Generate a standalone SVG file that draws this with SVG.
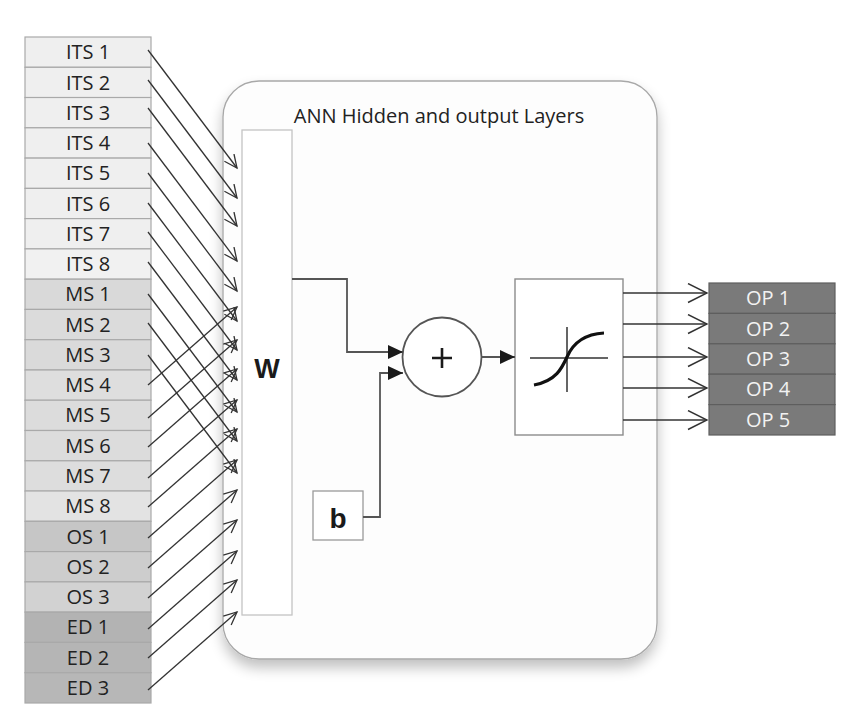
<svg xmlns="http://www.w3.org/2000/svg" width="841" height="709" viewBox="0 0 841 709">
<style>
.in{stroke:#a9a9a9;stroke-width:1.2}
.lbl{font-family:"Open Sans","Liberation Sans",sans-serif;font-size:20px;fill:#222;text-anchor:middle}
.op{font-family:"Open Sans","Liberation Sans",sans-serif;font-size:20px;fill:#f2f2f2;text-anchor:middle}
.cn{fill:none;stroke:#333;stroke-width:1.3}
.cd{fill:none;stroke:#555;stroke-width:1.8}
</style>
<defs>
<filter id="sh" x="-10%" y="-10%" width="120%" height="125%">
<feGaussianBlur in="SourceAlpha" stdDeviation="7"/>
<feOffset dx="0" dy="8" result="b"/>
<feComponentTransfer><feFuncA type="linear" slope="0.25"/></feComponentTransfer>
<feMerge><feMergeNode/><feMergeNode in="SourceGraphic"/></feMerge>
</filter>
<marker id="oa" markerWidth="16" markerHeight="14" refX="14" refY="6.5" orient="auto" markerUnits="userSpaceOnUse">
<path d="M1,0.5 L14,6.5 L1,12.5" fill="none" stroke="#333" stroke-width="1.3"/>
</marker>
<marker id="ob" markerWidth="22" markerHeight="22" refX="20" refY="10.5" orient="auto" markerUnits="userSpaceOnUse">
<path d="M1,1 L20,10.5 L1,20" fill="none" stroke="#333" stroke-width="1.4"/>
</marker>
<marker id="fa" markerWidth="16" markerHeight="14" refX="15" refY="7" orient="auto" markerUnits="userSpaceOnUse">
<path d="M0,0 L15,7 L0,14 Z" fill="#1a1a1a"/>
</marker>
</defs>
<rect width="841" height="709" fill="#ffffff"/>

<g id="container">
<rect x="223" y="81" width="434" height="578" rx="36" ry="36" fill="#fdfdfd" stroke="#a8a8a8" stroke-width="1.3" filter="url(#sh)"/>
<text x="439" y="123" font-family="'Open Sans','Liberation Sans',sans-serif" font-size="20" fill="#222" text-anchor="middle">ANN Hidden and output Layers</text>
</g>

<g id="inputs">
<g id="ITS1"><rect class="in" x="25" y="37" width="126" height="30.3" fill="#efefef"/><text class="lbl" x="88" y="59.2">ITS 1</text></g>
<g id="ITS2"><rect class="in" x="25" y="67.3" width="126" height="30.3" fill="#efefef"/><text class="lbl" x="88" y="89.5">ITS 2</text></g>
<g id="ITS3"><rect class="in" x="25" y="97.5" width="126" height="30.3" fill="#efefef"/><text class="lbl" x="88" y="119.7">ITS 3</text></g>
<g id="ITS4"><rect class="in" x="25" y="127.8" width="126" height="30.3" fill="#efefef"/><text class="lbl" x="88" y="150">ITS 4</text></g>
<g id="ITS5"><rect class="in" x="25" y="158.1" width="126" height="30.3" fill="#efefef"/><text class="lbl" x="88" y="180.3">ITS 5</text></g>
<g id="ITS6"><rect class="in" x="25" y="188.4" width="126" height="30.3" fill="#efefef"/><text class="lbl" x="88" y="210.6">ITS 6</text></g>
<g id="ITS7"><rect class="in" x="25" y="218.6" width="126" height="30.3" fill="#efefef"/><text class="lbl" x="88" y="240.8">ITS 7</text></g>
<g id="ITS8"><rect class="in" x="25" y="248.9" width="126" height="30.3" fill="#f1f1f1"/><text class="lbl" x="88" y="271.1">ITS 8</text></g>
<g id="MS1"><rect class="in" x="25" y="279.2" width="126" height="30.3" fill="#d9d9d9"/><text class="lbl" x="88" y="301.4">MS 1</text></g>
<g id="MS2"><rect class="in" x="25" y="309.4" width="126" height="30.3" fill="#dbdbdb"/><text class="lbl" x="88" y="331.6">MS 2</text></g>
<g id="MS3"><rect class="in" x="25" y="339.7" width="126" height="30.3" fill="#dadada"/><text class="lbl" x="88" y="361.9">MS 3</text></g>
<g id="MS4"><rect class="in" x="25" y="370" width="126" height="30.3" fill="#dedede"/><text class="lbl" x="88" y="392.2">MS 4</text></g>
<g id="MS5"><rect class="in" x="25" y="400.2" width="126" height="30.3" fill="#dcdcdc"/><text class="lbl" x="88" y="422.4">MS 5</text></g>
<g id="MS6"><rect class="in" x="25" y="430.5" width="126" height="30.3" fill="#dcdcdc"/><text class="lbl" x="88" y="452.7">MS 6</text></g>
<g id="MS7"><rect class="in" x="25" y="460.8" width="126" height="30.3" fill="#dddddd"/><text class="lbl" x="88" y="483">MS 7</text></g>
<g id="MS8"><rect class="in" x="25" y="491" width="126" height="30.3" fill="#e3e3e3"/><text class="lbl" x="88" y="513.2">MS 8</text></g>
<g id="OS1"><rect class="in" x="25" y="521.3" width="126" height="30.3" fill="#c6c6c6"/><text class="lbl" x="88" y="543.5">OS 1</text></g>
<g id="OS2"><rect class="in" x="25" y="551.6" width="126" height="30.3" fill="#cdcdcd"/><text class="lbl" x="88" y="573.8">OS 2</text></g>
<g id="OS3"><rect class="in" x="25" y="581.9" width="126" height="30.3" fill="#d2d2d2"/><text class="lbl" x="88" y="604.1">OS 3</text></g>
<g id="ED1"><rect class="in" x="25" y="612.1" width="126" height="30.3" fill="#b3b3b3"/><text class="lbl" x="88" y="634.3">ED 1</text></g>
<g id="ED2"><rect class="in" x="25" y="642.4" width="126" height="30.3" fill="#b5b5b5"/><text class="lbl" x="88" y="664.6">ED 2</text></g>
<g id="ED3"><rect class="in" x="25" y="672.7" width="126" height="30.3" fill="#b7b7b7"/><text class="lbl" x="88" y="694.9">ED 3</text></g>
</g>

<g id="W">
<rect x="242" y="130" width="50" height="485" fill="#ffffff" stroke="#c4c4c4" stroke-width="1.3"/>
<text x="267" y="378" font-family="'Liberation Sans',sans-serif" font-weight="bold" font-size="27" fill="#1a1a1a" text-anchor="middle">W</text>
</g>

<g id="b">
<rect x="313" y="491" width="50" height="49" fill="#ffffff" stroke="#9a9a9a" stroke-width="1.3"/>
<text x="338" y="528" font-family="'Liberation Sans',sans-serif" font-weight="bold" font-size="28" fill="#1a1a1a" text-anchor="middle">b</text>
</g>

<g id="sum">
<circle cx="442" cy="357" r="39.5" fill="#ffffff" stroke="#555" stroke-width="1.8"/>
<path d="M432,358 H452 M442,348 V368" stroke="#1a1a1a" stroke-width="2.6" fill="none"/>
</g>

<g id="sigmoid">
<rect x="515" y="279" width="108" height="156" fill="#ffffff" stroke="#8c8c8c" stroke-width="1.4"/>
<path d="M530,358 H608 M567,327 V392" stroke="#333" stroke-width="1.5" fill="none"/>
<path d="M534,385 C556,381 562,368 567,357 C573,343 585,334 604,333" stroke="#111" stroke-width="3.2" fill="none"/>
</g>

<g id="outputs">
<g id="OP1"><rect x="709" y="283" width="126" height="30.4" fill="#7a7a7a" stroke="#5e5e5e" stroke-width="1.2"/><text class="op" x="768" y="305.2">OP 1</text></g>
<g id="OP2"><rect x="709" y="313.4" width="126" height="30.4" fill="#7a7a7a" stroke="#5e5e5e" stroke-width="1.2"/><text class="op" x="768" y="335.6">OP 2</text></g>
<g id="OP3"><rect x="709" y="343.8" width="126" height="30.4" fill="#7a7a7a" stroke="#5e5e5e" stroke-width="1.2"/><text class="op" x="768" y="366">OP 3</text></g>
<g id="OP4"><rect x="709" y="374.2" width="126" height="30.4" fill="#7a7a7a" stroke="#5e5e5e" stroke-width="1.2"/><text class="op" x="768" y="396.4">OP 4</text></g>
<g id="OP5"><rect x="709" y="404.6" width="126" height="30.4" fill="#7a7a7a" stroke="#5e5e5e" stroke-width="1.2"/><text class="op" x="768" y="426.8">OP 5</text></g>
</g>

<g id="connectors">
<g marker-end="url(#oa)">
<line class="cn" x1="148" y1="50" x2="237" y2="168"/>
<line class="cn" x1="148" y1="80" x2="237" y2="198"/>
<line class="cn" x1="148" y1="108" x2="237" y2="226"/>
<line class="cn" x1="148" y1="143" x2="237" y2="261"/>
<line class="cn" x1="148" y1="173" x2="237" y2="291"/>
<line class="cn" x1="148" y1="203" x2="237" y2="321"/>
<line class="cn" x1="148" y1="232" x2="237" y2="350"/>
<line class="cn" x1="148" y1="262" x2="237" y2="380"/>
<line class="cn" x1="148" y1="294" x2="237" y2="412"/>
<line class="cn" x1="148" y1="323" x2="237" y2="441"/>
<line class="cn" x1="148" y1="355" x2="237" y2="473"/>
<line class="cn" x1="148" y1="385" x2="237" y2="307"/>
<line class="cn" x1="148" y1="418" x2="237" y2="340"/>
<line class="cn" x1="148" y1="447" x2="237" y2="369"/>
<line class="cn" x1="148" y1="478" x2="237" y2="400"/>
<line class="cn" x1="148" y1="507" x2="237" y2="429"/>
<line class="cn" x1="148" y1="538" x2="237" y2="460"/>
<line class="cn" x1="148" y1="568" x2="237" y2="490"/>
<line class="cn" x1="148" y1="598" x2="237" y2="520"/>
<line class="cn" x1="148" y1="629" x2="237" y2="551"/>
<line class="cn" x1="148" y1="658" x2="237" y2="580"/>
<line class="cn" x1="148" y1="690" x2="237" y2="612"/>
</g>
<path class="cd" d="M292,279 H347 V352 H403" marker-end="url(#fa)"/>
<path class="cd" d="M363,517 H380 V373 H403" marker-end="url(#fa)"/>
<path class="cd" d="M482,357 H515" marker-end="url(#fa)"/>
<g marker-end="url(#ob)">
<line class="cn" x1="623" y1="293" x2="707" y2="293"/>
<line class="cn" x1="623" y1="324" x2="707" y2="324"/>
<line class="cn" x1="623" y1="357" x2="707" y2="357"/>
<line class="cn" x1="623" y1="388" x2="707" y2="388"/>
<line class="cn" x1="623" y1="420" x2="707" y2="420"/>
</g>
</g>
</svg>
